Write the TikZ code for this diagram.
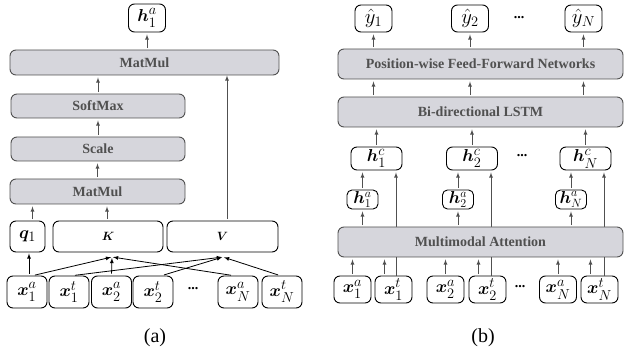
\documentclass[tikz,border=0pt]{standalone}
\usepackage{amsmath,amssymb,bm}
\usepackage{fontspec}
\setmainfont{Liberation Serif}
\usepackage{tikz}
\definecolor{boxgray}{RGB}{214,214,220}
\definecolor{linegray}{RGB}{80,80,80}
\tikzset{mybox/.style={draw=black,rounded corners=6pt,line width=.9pt,inner sep=0pt,font=\fontsize{19}{21}\selectfont},
mygraybox/.style={draw=linegray,fill=boxgray,rounded corners=6pt,line width=.9pt,inner sep=0pt,text=linegray,font=\bfseries\fontsize{14}{16}\selectfont},
myarrow/.style={-latex,linegray,line width=.8pt,shorten <=1.5pt,shorten >=2pt},
myblackarrow/.style={-latex,black,line width=.8pt,shorten <=2pt,shorten >=1pt},
mydots/.style={font=\bfseries\fontsize{14}{16}\selectfont}}

\begin{document}
\begin{tikzpicture}[x=1pt,y=-1pt]
\useasboundingbox (0,0) rectangle (624,358);

% (a)
\node[mybox,minimum width=37pt,minimum height=28pt] (h1a) at (147,18) {$\bm{h}_1^a$};
\node[mygraybox,minimum width=269pt,minimum height=25pt] (mmtop) at (144.5,62.5) {MatMul};
\node[mygraybox,minimum width=174pt,minimum height=24pt] (soft) at (98,106) {SoftMax};
\node[mygraybox,minimum width=174pt,minimum height=24pt] (scale) at (98,149) {Scale};
\node[mygraybox,minimum width=175pt,minimum height=25pt] (mmlow) at (97.5,191.5) {MatMul};
\node[mybox,minimum width=35pt,minimum height=31pt] (q1) at (27.5,236.5) {$\bm{q}_1$};
\node[mybox,minimum width=110pt,minimum height=31pt,font=\fontsize{12}{14}\selectfont] (K) at (108,236.5) {$\bm{K}$};
\node[mybox,minimum width=111pt,minimum height=31pt,font=\fontsize{12}{14}\selectfont] (V) at (222.5,236.5) {$\bm{V}$};
\foreach \nm/\xc/\lbl in {ax1a/27/{\bm{x}_1^a},ax1t/69/{\bm{x}_1^t},ax2a/111.5/{\bm{x}_2^a},
  ax2t/153/{\bm{x}_2^t},axNa/238/{\bm{x}_N^a},axNt/282/{\bm{x}_N^t}}{
\node[mybox,minimum width=40pt,minimum height=32pt] (\nm) at (\xc,292) {$\lbl$};
}
\node[mydots] (adots) at (193,289) {...};
\node[font=\fontsize{20}{22}\selectfont] (alabel) at (155,338) {(a)};

\draw[myarrow] (mmtop.north -| h1a.south) -- (h1a.south);
\draw[myarrow] (soft.north) -- (soft.north |- mmtop.south);
\draw[myarrow] (scale.north) -- (scale.north |- soft.south);
\draw[myarrow] (mmlow.north) -- (mmlow.north |- scale.south);
\draw[myarrow] ([xshift=5pt]q1.north) -- ([xshift=5pt]q1.north |- mmlow.south);
\draw[myarrow] ([xshift=-1pt]K.north) -- ([xshift=-1pt]K.north |- mmlow.south);
\draw[myarrow,shorten >=0pt] ([xshift=4.5pt]V.north) -- ([xshift=4.5pt]V.north |- mmtop.south);

\coordinate (kin) at (112,257);
\coordinate (vin) at (223,257);
\draw[myblackarrow] ([xshift=2pt]ax1a.north) -- ([xshift=2pt]ax1a.north |- q1.south);
\draw[myblackarrow] ([xshift=6pt]ax1a.north) -- (kin);
\draw[myblackarrow] (ax2a.north) -- (kin);
\draw[myblackarrow] ([xshift=-5pt]axNa.north) -- (kin);
\draw[myblackarrow] ([xshift=4pt]ax1t.north) -- (vin);
\draw[myblackarrow] ([xshift=9pt]ax2t.north) -- (vin);
\draw[myblackarrow] ([xshift=-2pt]axNt.north) -- (vin);

% (b)
\foreach \nm/\xc/\lbl in {y1/373.5/1,y2/470/2,yN/583.5/N}{
\node[mybox,minimum width=37pt,minimum height=27pt,font=\fontsize{20}{22}\selectfont] (\nm) at (\xc,18.5) {$\hat{y}_{\lbl}$};
}
\node[mydots] (ydots) at (519,18) {...};
\node[mygraybox,minimum width=285pt,minimum height=30pt] (ffn) at (480.5,64) {Position-wise Feed-Forward Networks};
\node[mygraybox,minimum width=285pt,minimum height=30pt] (lstm) at (480.5,112) {Bi-directional LSTM};
\foreach \nm/\xc/\lbl in {h1c/376.5/1,h2c/472/2,hNc/585.5/N}{
\node[mybox,minimum width=51pt,minimum height=23pt] (\nm) at (\xc,158.5) {$\bm{h}_{\lbl}^c$};
}
\node[mydots] (hdots) at (522,156) {...};
\foreach \nm/\xc/\lbl in {h1a/362.5/1,h2a/458/2,hNa/571/N}{
\node[mybox,minimum width=31pt,minimum height=19pt,rounded corners=5pt,font=\fontsize{17}{19}\selectfont] (b\nm) at (\xc,199.5) {$\bm{h}_{\lbl}^a$};
}
\foreach \nm/\xc/\lbl in {bx1a/352.5/{\bm{x}_1^a},bx1t/393.5/{\bm{x}_1^t},bx2a/445.5/{\bm{x}_2^a},
  bx2t/487.5/{\bm{x}_2^t},bxNa/558/{\bm{x}_N^a},bxNt/599.5/{\bm{x}_N^t}}{
\node[mybox,minimum width=37pt,minimum height=27pt] (\nm) at (\xc,289.5) {$\lbl$};
}
\node[mydots] (bdots) at (520,287) {...};
\node[font=\fontsize{20}{22}\selectfont] (blabel) at (483,338) {(b)};

\draw[myarrow,shorten <=0pt] ([xshift=2.5pt]bx1t.north) -- ([xshift=2.5pt]bx1t.north |- h1c.south);
\draw[myarrow,shorten <=0pt] ([xshift=3.5pt]bx2t.north) -- ([xshift=3.5pt]bx2t.north |- h2c.south);
\draw[myarrow,shorten <=0pt] ([xshift=4.5pt]bxNt.north) -- ([xshift=4.5pt]bxNt.north |- hNc.south);
\node[mygraybox,minimum width=285pt,minimum height=30pt] (ma) at (480.5,242) {Multimodal Attention};

\foreach \nm in {y1,y2,yN}{
\draw[myarrow] (\nm.south |- ffn.north) -- (\nm.south);
\draw[myarrow] (\nm.south |- lstm.north) -- (\nm.south |- ffn.south);
}
\foreach \nm in {h1c,h2c,hNc}{
\draw[myarrow] (\nm.north) -- (\nm.north |- lstm.south);
}
\draw[myarrow] (bh1a.north) -- (bh1a.north |- h1c.south);
\draw[myarrow] (bh2a.north) -- (bh2a.north |- h2c.south);
\draw[myarrow] (bhNa.north) -- (bhNa.north |- hNc.south);
\foreach \nm in {bh1a,bh2a,bhNa}{
\draw[myarrow] (\nm.south |- ma.north) -- (\nm.south);
}
\foreach \nm in {bx1a,bx2a,bxNa}{
\draw[myarrow] (\nm.north) -- (\nm.north |- ma.south);
}
\foreach \nm in {bx1t,bx2t,bxNt}{
\draw[myarrow] ([xshift=-9pt]\nm.north) -- ([xshift=-9pt]\nm.north |- ma.south);
}
\end{tikzpicture}
\end{document}
